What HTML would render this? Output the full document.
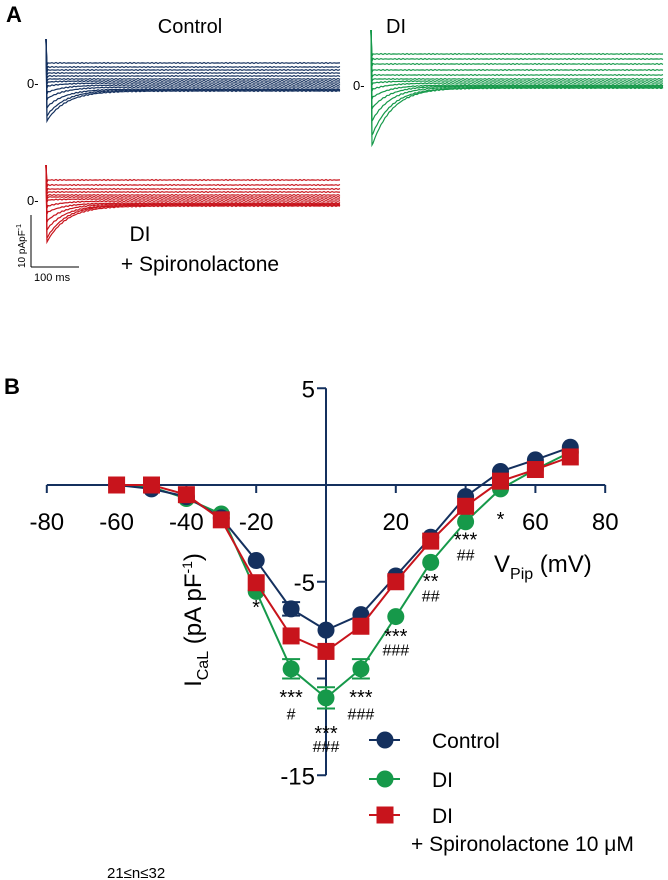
<!DOCTYPE html>
<html><head><meta charset="utf-8">
<style>
html,body{margin:0;padding:0;background:#fff;}
svg{display:block;font-family:"Liberation Sans",Arial,sans-serif;}
</style></head>
<body>
<svg id="fig" width="668" height="880" viewBox="0 0 668 880" xmlns="http://www.w3.org/2000/svg">
  <text x="6" y="22" font-size="22" font-weight="bold">A</text>
  <text x="190" y="33" font-size="20" text-anchor="middle">Control</text>
  <text x="396" y="33" font-size="20" text-anchor="middle">DI</text>
  <text x="140" y="241" font-size="21" text-anchor="middle">DI</text>
  <text x="200" y="271" font-size="21" text-anchor="middle">+ Spironolactone</text>
  <text x="27" y="88" font-size="13">0-</text>
  <text x="353" y="90" font-size="13">0-</text>
  <text x="27" y="205" font-size="13">0-</text>
  <g id="traces"></g>
  <g>
    <line x1="31" y1="215" x2="31" y2="267" stroke="#000" stroke-width="1"/>
    <line x1="31" y1="267" x2="79" y2="267" stroke="#000" stroke-width="1"/>
    <text x="0" y="0" font-size="10" transform="translate(25,268) rotate(-90)">10 pApF<tspan dy="-4" font-size="7">-1</tspan></text>
    <text x="34" y="281" font-size="11">100 ms</text>
  </g>

  <text x="4" y="394" font-size="22" font-weight="bold">B</text>
  <g id="chart"></g>
  <text x="494" y="572" font-size="24">V<tspan font-size="16" dy="7">Pip</tspan><tspan dy="-7"> (mV)</tspan></text>
  <text transform="translate(201,620) rotate(-90)" font-size="24" text-anchor="middle">I<tspan font-size="16" dy="7">CaL</tspan><tspan dy="-7"> (pA pF</tspan><tspan font-size="14" dy="-9">-1</tspan><tspan dy="9">)</tspan></text>
  <g>
    <g>
      <line x1="369" y1="740" x2="400" y2="740" stroke="#14305e" stroke-width="2"/>
      <circle cx="385" cy="740" r="8.5" fill="#14305e"/>
      <text x="432" y="748" font-size="21">Control</text>
    </g>
    <g>
      <line x1="369" y1="779" x2="400" y2="779" stroke="#16994a" stroke-width="2"/>
      <circle cx="385" cy="779" r="8.5" fill="#16994a"/>
      <text x="432" y="787" font-size="21">DI</text>
    </g>
    <g>
      <line x1="369" y1="815" x2="400" y2="815" stroke="#c8141c" stroke-width="2"/>
      <rect x="376.5" y="806.5" width="17" height="17" fill="#c8141c"/>
      <text x="432" y="823" font-size="21">DI</text>
      <text x="411" y="851" font-size="21">+ Spironolactone 10 μM</text>
    </g>
  </g>
  <text x="107" y="878" font-size="15">21≤n≤32</text>
</svg>
<script>
// ---- Panel B data ----
const voltages = [-60,-50,-40,-30,-20,-10,0,10,20,30,40,50,60,70];
const controlVals = [0,-0.2,-0.6,-1.7,-3.9,-6.4,-7.5,-6.7,-4.7,-2.7,-0.6,0.7,1.3,1.95];
const diVals = [0,-0.1,-0.7,-1.5,-5.5,-9.5,-11,-9.5,-6.8,-4.0,-1.9,-0.2,0.8,1.7];
const spiroVals = [0,0,-0.5,-1.8,-5.05,-7.8,-8.6,-7.3,-5.0,-2.9,-1.1,0.2,0.8,1.45];
const diErr = [0,0,0,0,0,0.5,0.55,0.5,0,0,0,0,0,0];
const controlErr = [0,0,0,0,0,0.35,0,0,0,0,0,0,0,0];
const xTicks = [-80,-60,-40,-20,0,20,40,60,80];
const xTickLabels = ["-80","-60","-40","-20","","20","","60","80"];
const yTicks = [5,0,-5,-10,-15];
const yTickLabels = ["5","","-5","","-15"];
const annotVolts = [-20,-10,-10,0,0,10,10,20,20,30,30,40,40,50];
const annotText = ["*","***","#","***","###","***","###","***","###","**","##","***","##","*"];
const annotVals = [-6.1,-10.75,-11.8,-12.6,-13.5,-10.75,-11.8,-7.6,-8.5,-4.75,-5.7,-2.6,-3.6,-1.55];

const NS="http://www.w3.org/2000/svg";
const X0=326, PXV=3.49, Y0=485, PYU=19.35;
const sx=v=>X0+v*PXV;
const sy=v=>Y0-v*PYU;
const chart=document.getElementById('chart');
function mk(tag,attrs,parent){const e=document.createElementNS(NS,tag);for(const k in attrs)e.setAttribute(k,attrs[k]);(parent||chart).appendChild(e);return e;}
const AX="#14305e";
const xa=mk('line',{x1:sx(-80),y1:Y0,x2:sx(80),y2:Y0,stroke:AX,'stroke-width':2});


const ya=mk('line',{x1:X0,y1:sy(5),x2:X0,y2:sy(-15),stroke:AX,'stroke-width':2});


xTicks.forEach((t,i)=>{
  const l=mk('line',{x1:sx(t),y1:Y0,x2:sx(t),y2:Y0+8,stroke:AX,'stroke-width':2});
  
  
  if(xTickLabels[i]){const tx=mk('text',{x:sx(t),y:Y0+45,'font-size':24,'text-anchor':'middle'});tx.textContent=xTickLabels[i];
    
    }
});
yTicks.forEach((t,i)=>{
  const l=mk('line',{x1:X0-9,y1:sy(t),x2:X0,y2:sy(t),stroke:AX,'stroke-width':2});
  
  
  if(yTickLabels[i]){const tx=mk('text',{x:X0-11,y:sy(t)+9,'font-size':24,'text-anchor':'end'});tx.textContent=yTickLabels[i];
    
    }
});
function series(vals,errs,color,shape,name){
  const g=mk('g',{});
  
  
  const pts=voltages.map((v,i)=>sx(v)+','+sy(vals[i])).join(' ');
  mk('polyline',{points:pts,fill:'none',stroke:color,'stroke-width':2},g);
  voltages.forEach((v,i)=>{
    if(errs&&errs[i]>0){
      const x=sx(v),y1=sy(vals[i]+errs[i]),y2=sy(vals[i]-errs[i]);
      mk('line',{x1:x,y1:y1,x2:x,y2:y2,stroke:color,'stroke-width':2},g);
      mk('line',{x1:x-9,y1:y1,x2:x+9,y2:y1,stroke:color,'stroke-width':2},g);
      mk('line',{x1:x-9,y1:y2,x2:x+9,y2:y2,stroke:color,'stroke-width':2},g);
    }
    let m;
    if(shape==='circle') m=mk('circle',{cx:sx(v),cy:sy(vals[i]),r:8.5,fill:color},g);
    else m=mk('rect',{x:sx(v)-8.5,y:sy(vals[i])-8.5,width:17,height:17,fill:color},g);
    
    
  });
}
series(diVals,diErr,'#16994a','circle','series-di');
series(controlVals,controlErr,'#14305e','circle','series-control');
series(spiroVals,null,'#c8141c','square','series-di-spironolactone');
annotVolts.forEach((v,i)=>{
  const isStar=annotText[i].indexOf('*')>=0;
  const t=mk('text',{x:sx(v),y:sy(annotVals[i])+(isStar?11:6),'font-size':isStar?20:16,'text-anchor':'middle'});
  t.textContent=annotText[i];
  
  
});

// ---- Panel A traces ----
const ctrlSteady = [-21,-17,-14,-11,-8,-5,-3,-1,1,3,5,6,7];
const ctrlPeak   = [-21,-17,-14,-11,-8,-5,-2,2,8,14,22,30,35];
const diSteady   = [-31,-26,-21,-15,-10,-6,-4,-2,0,1,2,3,3];
const diPeak     = [-31,-26,-21,-15,-10,-6,-2,4,12,22,34,48,58];
const spSteady   = [-20,-15,-11,-8,-5,-3,-1,1,3,4,5,5,6];
const spPeak     = [-20,-15,-11,-8,-5,-3,0,6,12,20,28,36,40];
const tg=document.getElementById('traces');
function panel(x0,x1,yz,steady,peak,spikeTop,color,name){
  const g=document.createElementNS(NS,'g');tg.appendChild(g);
  
  
  steady.forEach((s,i)=>{
    const p=peak[i];let d='M'+x0+','+(yz+spikeTop)+' L'+(x0+1)+','+(yz+Math.max(p,s)+2);
    const len=x1-x0;
    for(let t=2;t<=len;t+=2){
      const tau=14+i*0.5;
      const v=s+(p-s)*Math.exp(-(t-2)/tau)+Math.sin(t*1.7+i)*0.5;
      d+=' L'+(x0+t)+','+(yz+v).toFixed(1);
    }
    const path=document.createElementNS(NS,'path');
    path.setAttribute('d',d);path.setAttribute('fill','none');path.setAttribute('stroke',color);path.setAttribute('stroke-width','1.2');
    
    
    g.appendChild(path);
  });
}
panel(46,340,84,ctrlSteady,ctrlPeak,-45,'#14305e','control-traces');
panel(371,664,85,diSteady,diPeak,-55,'#16994a','di-traces');
panel(46,340,200,spSteady,spPeak,-35,'#c8141c','di-spironolactone-traces');
</script>
</body></html>
